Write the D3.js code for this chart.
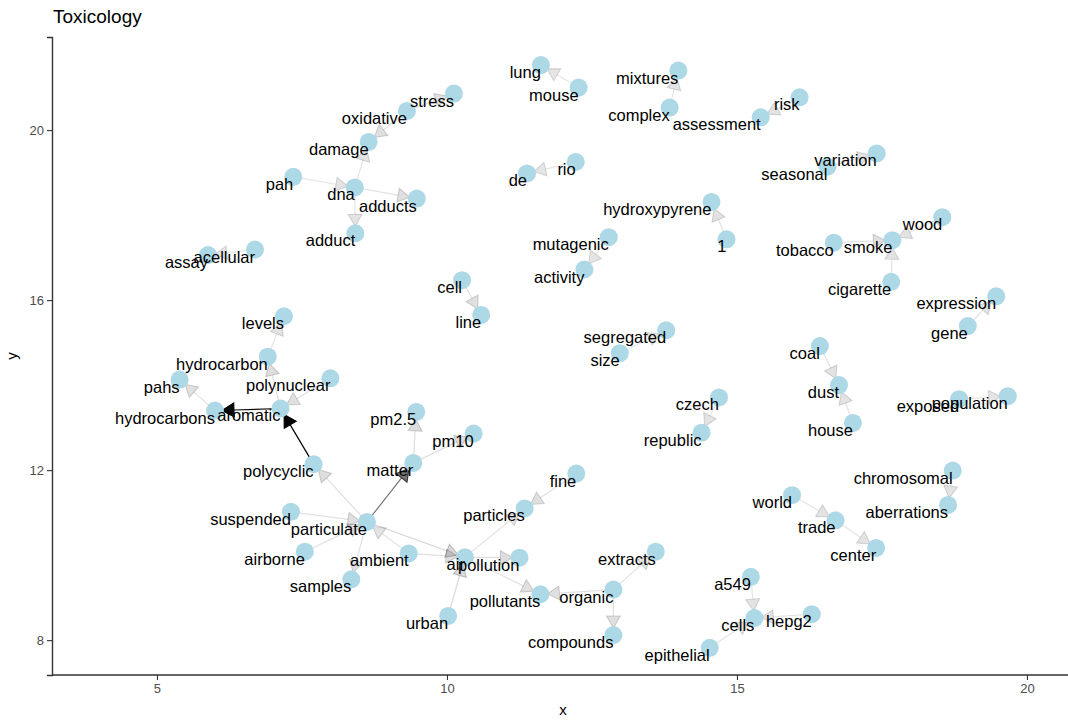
<!DOCTYPE html>
<html lang="en">
	<head>
		<meta charset="utf-8">
		<title>Toxicology bigram network</title>
		<script type="text/javascript" src="https://cdn.jsdelivr.net/npm/d3@7/dist/d3.min.js"></script>
		<style type="text/css">
			body { margin: 0; background: #fff; }
			text { font-family: "Liberation Sans", Arial, sans-serif; }
		</style>
	</head>
	<body>
		<script type="text/javascript">
			//Width and height
			var w = 1068;
			var h = 720;

			//Node words and their layout coordinates
			var nodeNames = ["stress", "oxidative", "damage", "pah", "dna", "adducts", "adduct",
				"acellular", "assay", "lung", "mouse", "mixtures", "complex", "assessment", "risk",
				"rio", "de", "variation", "seasonal", "hydroxypyrene", "1", "wood", "smoke", "tobacco",
				"mutagenic", "activity", "cigarette", "expression", "gene", "segregated", "size",
				"coal", "dust", "house", "czech", "republic", "exposed", "population", "chromosomal",
				"aberrations", "fine", "particles", "cell", "line", "levels", "hydrocarbon", "pahs",
				"polynuclear", "hydrocarbons", "aromatic", "pm2.5", "pm10", "matter", "polycyclic",
				"suspended", "particulate", "airborne", "ambient", "air", "pollution", "samples",
				"urban", "world", "trade", "center", "extracts", "organic", "pollutants", "compounds",
				"a549", "cells", "hepg2", "epithelial"];
			var nodeX = [10.12, 9.31, 8.65, 7.35, 8.41, 9.48, 8.42,
				6.69, 5.88, 11.62, 12.27, 13.99, 13.84, 15.41, 16.08,
				12.22, 11.38, 17.41, 16.56, 14.56, 14.82, 18.54, 17.68, 16.67,
				12.79, 12.37, 17.66, 19.47, 18.98, 13.78, 12.98,
				16.43, 16.76, 17.00, 14.69, 14.39, 18.83, 19.67, 18.72,
				18.64, 12.23, 11.34, 10.26, 10.59, 7.19, 6.91, 5.39,
				7.99, 6.00, 7.13, 9.47, 10.46, 9.42, 7.70,
				7.31, 8.62, 7.55, 9.34, 10.31, 11.25, 8.35,
				10.02, 15.95, 16.70, 17.40, 13.60, 12.87, 11.61, 12.87,
				15.24, 15.30, 16.29, 14.53];
			var nodeY = [20.86, 20.45, 19.72, 18.90, 18.65, 18.39, 17.57,
				17.19, 17.06, 21.53, 21.00, 21.40, 20.53, 20.30, 20.77,
				19.25, 18.98, 19.45, 19.14, 18.31, 17.43, 17.95, 17.41, 17.35,
				17.48, 16.72, 16.43, 16.09, 15.39, 15.29, 14.75,
				14.92, 14.00, 13.11, 13.71, 12.88, 13.67, 13.74, 11.99,
				11.18, 11.92, 11.10, 16.47, 15.65, 15.62, 14.67, 14.13,
				14.16, 13.40, 13.45, 13.37, 12.86, 12.17, 12.14,
				11.02, 10.78, 10.08, 10.04, 9.95, 9.94, 9.43,
				8.57, 11.41, 10.82, 10.17, 10.08, 9.19, 9.08, 8.12,
				9.49, 8.52, 8.61, 7.82];

			//Bigram edges: first word -> second word, with counts
			var edgeFrom = ["oxidative", "oxidative", "dna", "pah", "dna", "dna", "acellular",
				"mouse", "complex", "risk", "rio", "seasonal", "1", "tobacco", "wood", "cigarette",
				"mutagenic", "gene", "cell", "size", "coal", "house", "czech", "exposed",
				"chromosomal", "fine", "world", "trade", "hydrocarbon", "aromatic", "polynuclear",
				"aromatic", "hydrocarbons", "polycyclic", "matter", "matter", "particulate",
				"particulate", "suspended", "airborne", "ambient", "particulate", "particulate",
				"ambient", "air", "air", "urban", "air", "organic", "organic", "organic",
				"a549", "hepg2", "epithelial"];
			var edgeTo = ["stress", "damage", "damage", "dna", "adducts", "adduct", "assay",
				"lung", "mixtures", "assessment", "de", "variation", "hydroxypyrene", "smoke", "smoke", "smoke",
				"activity", "expression", "line", "segregated", "dust", "dust", "republic", "population",
				"aberrations", "particles", "trade", "center", "levels", "hydrocarbon", "aromatic",
				"hydrocarbons", "pahs", "aromatic", "pm2.5", "pm10", "matter",
				"polycyclic", "particulate", "particulate", "particulate", "samples", "air",
				"air", "pollution", "pollutants", "air", "particles", "pollutants", "extracts", "compounds",
				"cells", "cells", "cells"];
			var edgeN = [12, 12, 11, 11, 12, 11, 10,
				10, 11, 11, 10, 11, 11, 12, 11, 11,
				10, 11, 12, 10, 11, 11, 11, 10,
				11, 12, 11, 11, 11, 13, 12,
				96, 12, 100, 13, 13, 54,
				13, 12, 12, 11, 12, 15,
				12, 13, 12, 15, 11, 12, 11, 12,
				11, 11, 11];

			var xTicks = [5, 10, 15, 20];
			var yTicks = [8, 12, 16, 20];

			//Scales
			var xScale = d3.scaleLinear()
							.domain([3.19, 20.57])
							.range([52, 1060]);
			var yScale = d3.scaleLinear()
							.domain([7.18, 22.19])
							.range([675, 37]);
			var alphaScale = d3.scaleLinear()
							.domain([d3.min(edgeN), d3.max(edgeN)])
							.range([0.1, 1]);

			var nodes = nodeNames.map(function(n, i) {
				return { name: n, x: nodeX[i], y: nodeY[i] };
			});
			var byName = {};
			nodes.forEach(function(n) { byName[n.name] = n; });
			var edges = edgeFrom.map(function(f, i) {
				return { source: byName[f], target: byName[edgeTo[i]], n: edgeN[i] };
			});

			//Create SVG element
			var svg = d3.select("body")
						.append("svg")
						.attr("width", w)
						.attr("height", h);

			//Title
			svg.append("text")
			   .attr("x", 53)
			   .attr("y", 23)
			   .attr("font-size", "19px")
			   .attr("fill", "#000")
			   .text("Toxicology");

			//Axes
			var xAxis = d3.axisBottom(xScale).tickValues(xTicks).tickSizeOuter(0).tickSize(5).tickPadding(4);
			var yAxis = d3.axisLeft(yScale).tickValues(yTicks).tickSizeOuter(0).tickSize(5).tickPadding(3);

			var gx = svg.append("g")
			   .attr("transform", "translate(0,675)")
			   .call(xAxis);
			var gy = svg.append("g")
			   .attr("transform", "translate(52,0)")
			   .call(yAxis);
			[gx, gy].forEach(function(g) {
				g.select(".domain").attr("stroke", "#333").attr("stroke-width", 1.4);
				g.selectAll(".tick line").attr("stroke", "#333").attr("stroke-width", 1.1);
				g.selectAll(".tick text")
				 .attr("fill", "#4d4d4d")
				 .attr("font-size", "13px")
				 .attr("font-family", "Liberation Sans, Arial, sans-serif");
			});
			gx.select(".domain").attr("d", "M52,0H1068");

			svg.append("text")
			   .attr("x", 563)
			   .attr("y", 715)
			   .attr("text-anchor", "middle")
			   .attr("font-size", "15px")
			   .text("x");
			svg.append("text")
			   .attr("transform", "translate(17,356) rotate(-90)")
			   .attr("text-anchor", "middle")
			   .attr("font-size", "15px")
			   .text("y");

			//Edges with arrow heads at the second word
			var endCap = 7, arrowLen = 12, arrowHalf = arrowLen * Math.tan(Math.PI / 6);
			var edgeG = svg.append("g");
			edges.forEach(function(e) {
				var x1 = xScale(e.source.x), y1 = yScale(e.source.y);
				var x2 = xScale(e.target.x), y2 = yScale(e.target.y);
				var dx = x2 - x1, dy = y2 - y1, len = Math.sqrt(dx * dx + dy * dy);
				var ux = dx / len, uy = dy / len;
				var tx = x2 - ux * endCap, ty = y2 - uy * endCap;
				var bx = tx - ux * arrowLen, by = ty - uy * arrowLen;
				var a = alphaScale(e.n);
				edgeG.append("line")
				   .attr("x1", x1).attr("y1", y1)
				   .attr("x2", bx).attr("y2", by)
				   .attr("stroke", "#000")
				   .attr("stroke-opacity", a)
				   .attr("stroke-width", 1.2);
				edgeG.append("path")
				   .attr("d", "M" + tx + "," + ty +
						"L" + (bx - uy * arrowHalf) + "," + (by + ux * arrowHalf) +
						"L" + (bx + uy * arrowHalf) + "," + (by - ux * arrowHalf) + "Z")
				   .attr("fill", "#000")
				   .attr("fill-opacity", a)
				   .attr("stroke", "#000")
				   .attr("stroke-opacity", a * 1.3)
				   .attr("stroke-width", 1.1);
			});

			//Nodes
			svg.append("g").selectAll("circle")
			   .data(nodes)
			   .enter()
			   .append("circle")
			   .attr("cx", function(d) { return xScale(d.x); })
			   .attr("cy", function(d) { return yScale(d.y); })
			   .attr("r", 9)
			   .attr("fill", "lightblue");

			//Labels (right/top justified at the node)
			svg.append("g").selectAll("text")
			   .data(nodes)
			   .enter()
			   .append("text")
			   .attr("x", function(d) { return xScale(d.x); })
			   .attr("y", function(d) { return yScale(d.y) + 13; })
			   .attr("text-anchor", "end")
			   .attr("font-size", "16.5px")
			   .attr("fill", "#000")
			   .text(function(d) { return d.name; });
		</script>
	</body>
</html>
